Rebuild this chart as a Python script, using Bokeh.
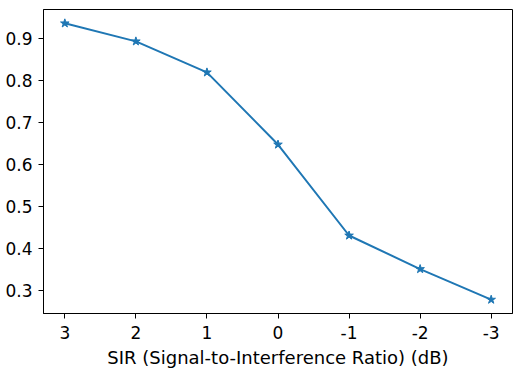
from bokeh.plotting import figure
from bokeh.models import Range1d, FixedTicker
from bokeh.embed import file_html
from bokeh.resources import INLINE

sir_db = [3, 2, 1, 0, -1, -2, -3]
sir_labels = ["3", "2", "1", "0", "-1", "-2", "-3"]
score = [0.937, 0.894, 0.820, 0.648, 0.431, 0.351, 0.278]
y_ticks = [0.3, 0.4, 0.5, 0.6, 0.7, 0.8, 0.9]
x_label = "SIR (Signal-to-Interference Ratio) (dB)"

color = "#1f77b4"
font = "DejaVu Sans"

p = figure(width=522, height=370, output_backend="svg", toolbar_location=None,
           x_range=Range1d(3.3, -3.3), y_range=Range1d(0.245, 0.970),
           min_border_left=43, min_border_right=10, min_border_top=9, min_border_bottom=56)

p.line(sir_db, score, line_color=color, line_width=2)
p.scatter(sir_db, score, marker="star", size=9, fill_color=color, line_color=color)

p.xgrid.visible = False
p.ygrid.visible = False
p.outline_line_color = "black"
p.outline_line_width = 1
p.outline_line_alpha = 1

p.xaxis.ticker = FixedTicker(ticks=sir_db)
p.xaxis.major_label_overrides = {v: s for v, s in zip(sir_db, sir_labels)}
p.yaxis.ticker = FixedTicker(ticks=y_ticks)
p.xaxis.axis_label = x_label

for ax in (p.xaxis, p.yaxis):
    ax.axis_line_color = "black"
    ax.major_tick_line_color = "black"
    ax.major_tick_out = 5
    ax.major_tick_in = 0
    ax.minor_tick_line_color = None
    ax.major_label_text_font = font
    ax.major_label_text_font_size = "17px"
    ax.major_label_text_color = "black"
    ax.axis_label_text_font = font
    ax.axis_label_text_font_size = "18px"
    ax.axis_label_text_font_style = "normal"
    ax.axis_label_text_color = "black"

p.xaxis.major_label_standoff = 7
p.xaxis.axis_label_standoff = 5
p.yaxis.major_label_standoff = 6

p.background_fill_color = "white"
p.border_fill_color = "white"

open("out.html", "w").write(file_html(p, INLINE))
